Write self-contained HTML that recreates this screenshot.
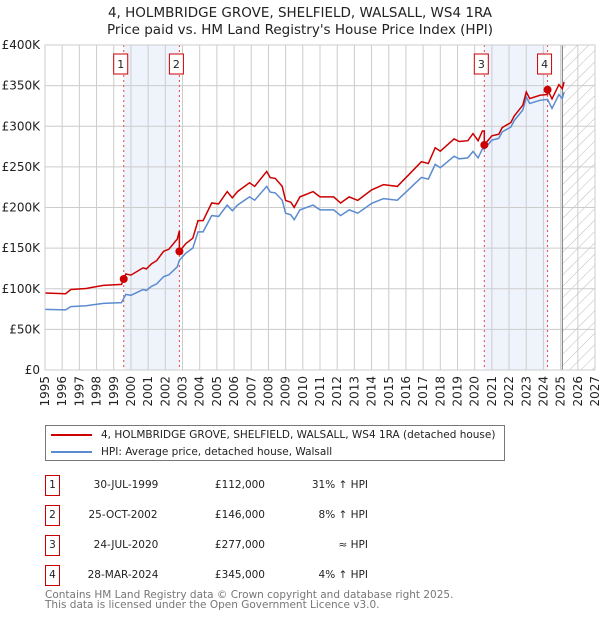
<!DOCTYPE html>
<html><head><meta charset="utf-8"><style>
body{margin:0;background:#fff;font-family:"DejaVu Sans","Liberation Sans",sans-serif;}
#wrap{position:relative;width:600px;height:620px;overflow:hidden}
svg text{font-family:"DejaVu Sans","Liberation Sans",sans-serif}
.tb div{white-space:nowrap}
</style></head><body><div id="wrap">
<svg id="chart" width="600" height="620"></svg>
</div>
<script>
const hpiYears=[1995,1996.2,1996.5,1997.4,1997.7,1998.4,1999.45,1999.7,2000.0,2000.7,2000.9,2001.2,2001.5,2001.9,2002.2,2002.7,2002.82,2003.2,2003.6,2003.9,2004.2,2004.7,2005.1,2005.6,2005.9,2006.2,2006.9,2007.2,2007.9,2008.1,2008.4,2008.8,2009.0,2009.3,2009.5,2009.83,2010.6,2011.0,2011.8,2012.2,2012.7,2013.2,2014.0,2014.7,2015.5,2016.1,2016.5,2016.9,2017.3,2017.7,2018.0,2018.8,2019.1,2019.6,2019.9,2020.2,2020.45,2020.56,2021.0,2021.4,2021.6,2022.1,2022.3,2022.8,2023.0,2023.2,2023.8,2024.24,2024.5,2024.9,2025.1,2025.2];
const hpiValues=[74.6,74,78,79,80,82,83,93,92,99,98,103,106,115,117,127,135,144,150,170,170,190,189,203,196,203,213,209,226,219,218,209,193,191,185,197,203,197,197,190,197,193,205,211,209,221,229,237,235,253,249,263,260,261,269,261,272,272,283,285,293,299,307,320,336,328,332,333,322,339,334,342];
const saleYears=[1999.58,2002.82,2020.56,2024.24];
const salePrices=[112,146,277,345];
const saleLabels=["1","2","3","4"];
const yTicks=[0,50,100,150,200,250,300,350,400];
const yTickLabels=["£0","£50K","£100K","£150K","£200K","£250K","£300K","£350K","£400K"];
const xTicks=[];for(let y=1995;y<=2027;y++)xTicks.push(y);
const forecastStart=2025.1;

const X0=45,X1=595,Y0=370,Y1=45;
const xs=y=>X0+(y-1995)/(2027-1995)*(X1-X0);
const ys=v=>Y0-v/400*(Y0-Y1);
const svg=document.getElementById('chart');
const NS='http://www.w3.org/2000/svg';
function mk(tag,attrs,parent){const e=document.createElementNS(NS,tag);for(const k in attrs)e.setAttribute(k,attrs[k]);(parent||svg).appendChild(e);return e;}
function hpiAt(t){for(let i=0;i<hpiYears.length-1;i++){if(t<=hpiYears[i+1]){const f=(t-hpiYears[i])/(hpiYears[i+1]-hpiYears[i]);return hpiValues[i]+f*(hpiValues[i+1]-hpiValues[i]);}}return hpiValues[hpiValues.length-1];}

const defs=mk('defs',{});
const pat=mk('pattern',{id:'hatch',width:8,height:8,patternUnits:'userSpaceOnUse',patternTransform:'rotate(45)'},defs);
mk('line',{x1:0,y1:0,x2:0,y2:8,stroke:'#bbb','stroke-width':1},pat);

let t=mk('text',{x:300,y:17,'text-anchor':'middle','font-size':13.5,fill:'#222'});t.textContent='4, HOLMBRIDGE GROVE, SHELFIELD, WALSALL, WS4 1RA';

t=mk('text',{x:300,y:34,'text-anchor':'middle','font-size':13.5,fill:'#222'});t.textContent="Price paid vs. HM Land Registry's House Price Index (HPI)";


for(let i=0;i<saleYears.length;i+=2){
  const r=mk('rect',{x:xs(saleYears[i]),y:Y1,width:xs(saleYears[i+1])-xs(saleYears[i]),height:Y0-Y1,fill:'#eef3fc'});
  
}
let h=mk('rect',{x:xs(forecastStart),y:Y1,width:X1-xs(forecastStart),height:Y0-Y1,fill:'url(#hatch)'});


xTicks.forEach(y=>{const l=mk('line',{x1:xs(y),x2:xs(y),y1:Y1,y2:Y0,stroke:'#ccc','stroke-width':1});
 
 const tx=mk('text',{transform:`translate(${xs(y)+4},${Y0+6}) rotate(-90)`,'text-anchor':'end','font-size':12,fill:'#222'});tx.textContent=y;
 });
yTicks.forEach((v,i)=>{const l=mk('line',{x1:X0,x2:X1,y1:ys(v),y2:ys(v),stroke:'#ccc','stroke-width':1});
 
 const tx=mk('text',{x:40,y:ys(v)+4,'text-anchor':'end','font-size':12,fill:'#222'});tx.textContent=yTickLabels[i];
 });
let fl=mk('line',{x1:xs(forecastStart),x2:xs(forecastStart),y1:Y1,y2:Y0,stroke:'#777','stroke-width':1});


saleYears.forEach((y,i)=>{
 const l=mk('line',{x1:xs(y),x2:xs(y),y1:Y1,y2:Y0,stroke:'#e44','stroke-width':1,'stroke-dasharray':'2,3'});
 
 const b=mk('rect',{x:xs(y)-10,y:54,width:14,height:20,fill:'#fff',stroke:'#c00','stroke-width':1});
 
 const tx=mk('text',{x:xs(y)-3,y:68,'text-anchor':'middle','font-size':11,fill:'#222'});tx.textContent=saleLabels[i];
 
});

let d='';hpiYears.forEach((y,i)=>{d+=(i?'L':'M')+xs(y).toFixed(1)+','+ys(hpiValues[i]).toFixed(1);});
let p=mk('path',{d:d,fill:'none',stroke:'#5b8bd0','stroke-width':1.5});


function segIdx(tm){let k=0;for(let i=0;i<saleYears.length;i++)if(tm>=saleYears[i])k=i;return k;}
const times=[...hpiYears];saleYears.forEach(s=>{times.push(s-0.001);times.push(s);});times.sort((a,b)=>a-b);
d='';times.forEach((tm,i)=>{const k=segIdx(tm);const v=salePrices[k]*hpiAt(tm)/hpiAt(saleYears[k]);d+=(i?'L':'M')+xs(tm).toFixed(1)+','+ys(v).toFixed(1);});
p=mk('path',{d:d,fill:'none',stroke:'#cc0000','stroke-width':1.5});

saleYears.forEach((y,i)=>{const c=mk('circle',{cx:xs(y),cy:ys(salePrices[i]),r:4,fill:'#cc0000'});
 });

let br=mk('rect',{x:X0,y:Y1,width:X1-X0,height:Y0-Y1,fill:'none',stroke:'#ccc'});

</script>
<div style="position:absolute;left:45px;top:425px;width:458px;height:34px;border:1px solid #777;font-size:10.5px;color:#222">
 <div style="position:absolute;left:5px;top:3px;white-space:nowrap"><span style="display:inline-block;width:41px;height:2px;background:#cc0000;vertical-align:middle;margin-right:9px"></span>4, HOLMBRIDGE GROVE, SHELFIELD, WALSALL, WS4 1RA (detached house)</div>
 <div style="position:absolute;left:5px;top:20px;white-space:nowrap"><span style="display:inline-block;width:41px;height:2px;background:#5b8bd0;vertical-align:middle;margin-right:9px"></span>HPI: Average price, detached house, Walsall</div>
</div>
<div class="tb" style="position:absolute;left:0;top:0;font-size:10.5px;color:#222">
 <div>
  <div style="position:absolute;left:45px;top:475px;width:13px;height:19px;border:1px solid #c00;text-align:center;line-height:19px">1</div>
  <div style="position:absolute;left:76px;top:479px;width:100px;text-align:center">30-JUL-1999</div>
  <div style="position:absolute;left:185px;top:479px;width:80px;text-align:right">£112,000</div>
  <div style="position:absolute;left:268px;top:479px;width:100px;text-align:right">31% ↑ HPI</div>
 </div>
 <div>
  <div style="position:absolute;left:45px;top:505px;width:13px;height:19px;border:1px solid #c00;text-align:center;line-height:19px">2</div>
  <div style="position:absolute;left:73px;top:509px;width:100px;text-align:center">25-OCT-2002</div>
  <div style="position:absolute;left:185px;top:509px;width:80px;text-align:right">£146,000</div>
  <div style="position:absolute;left:268px;top:509px;width:100px;text-align:right">8% ↑ HPI</div>
 </div>
 <div>
  <div style="position:absolute;left:45px;top:535px;width:13px;height:19px;border:1px solid #c00;text-align:center;line-height:19px">3</div>
  <div style="position:absolute;left:76px;top:539px;width:100px;text-align:center">24-JUL-2020</div>
  <div style="position:absolute;left:185px;top:539px;width:80px;text-align:right">£277,000</div>
  <div style="position:absolute;left:268px;top:539px;width:100px;text-align:right">≈ HPI</div>
 </div>
 <div>
  <div style="position:absolute;left:45px;top:565px;width:13px;height:19px;border:1px solid #c00;text-align:center;line-height:19px">4</div>
  <div style="position:absolute;left:73px;top:569px;width:100px;text-align:center">28-MAR-2024</div>
  <div style="position:absolute;left:185px;top:569px;width:80px;text-align:right">£345,000</div>
  <div style="position:absolute;left:268px;top:569px;width:100px;text-align:right">4% ↑ HPI</div>
 </div>
</div>
<div style="position:absolute;left:45px;top:590px;font-size:10.5px;line-height:10px;color:#777;white-space:nowrap">Contains HM Land Registry data © Crown copyright and database right 2025.<br>This data is licensed under the Open Government Licence v3.0.</div>
</body></html>
